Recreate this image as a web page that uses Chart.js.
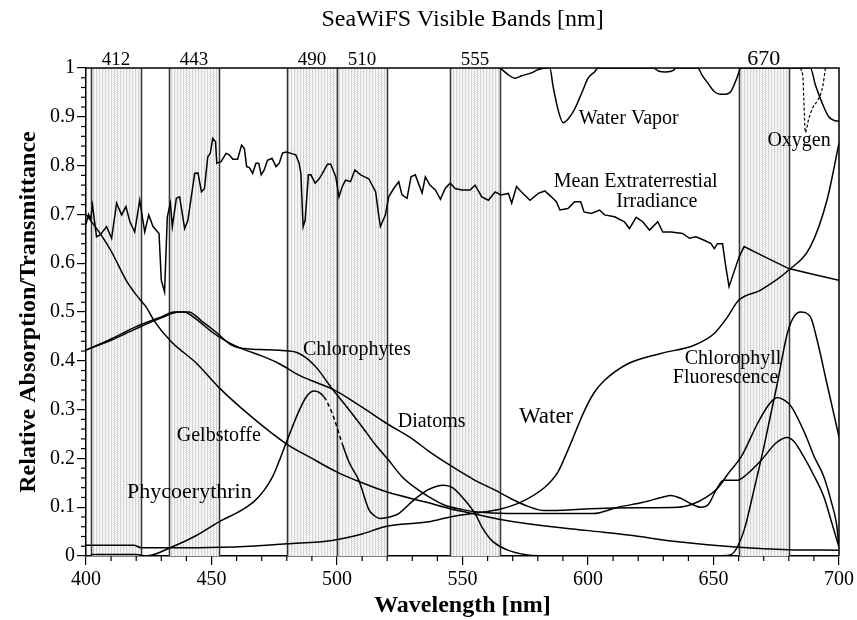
<!DOCTYPE html>
<html>
<head>
<meta charset="utf-8">
<script src="https://cdn.jsdelivr.net/npm/chart.js@4.4.1/dist/chart.umd.min.js"></script>
<style>
  html, body { margin: 0; padding: 0; background: #fff; }
</style>
</head>
<body>
<canvas id="chart" width="857" height="620"></canvas>
<script>
// SeaWiFS bands (nm)
const bandStart = [402, 433, 480, 500, 545, 660];
const bandEnd = [422, 453, 500, 520, 565, 680];
const bandNames = ['412', '443', '490', '510', '555', '670'];

// curves as [wavelength, value]
const irradiance = [
    [400, 0.68], [401, 0.70], [401.8, 0.69], [402.6, 0.719], [404.2, 0.654], [405.6, 0.658], [408.2, 0.675],
    [410.2, 0.651], [412.2, 0.723], [414.2, 0.699], [415.9, 0.716], [417.5, 0.685], [419.4, 0.664],
    [421.4, 0.729], [423.4, 0.664], [425, 0.699], [426.7, 0.675], [429.1, 0.661], [430, 0.565],
    [431.3, 0.541], [432.4, 0.695], [433.6, 0.723], [434.4, 0.675], [436, 0.733], [437.3, 0.736],
    [439.3, 0.671], [440.6, 0.688], [443.3, 0.784], [444.6, 0.785], [446, 0.746], [447.2, 0.753],
    [448.5, 0.818], [449.5, 0.825], [450.5, 0.856], [451.6, 0.849], [452.1, 0.805], [453.8, 0.808],
    [455.8, 0.825], [457.1, 0.822], [458.5, 0.813], [460.4, 0.813], [462, 0.842], [463.1, 0.835],
    [464, 0.798], [465.1, 0.796], [466.4, 0.784], [467.7, 0.805], [468.8, 0.805], [469.8, 0.781],
    [471, 0.791], [472.3, 0.811], [474.1, 0.815], [475.7, 0.798], [477, 0.805], [478.3, 0.826],
    [479.9, 0.828], [482.3, 0.824], [483.6, 0.822], [484.9, 0.805], [485.6, 0.784], [486.5, 0.675],
    [487.3, 0.688], [488.6, 0.781], [489.6, 0.781], [491.3, 0.764], [492.9, 0.773], [494.2, 0.784],
    [496.2, 0.803], [497.5, 0.803], [499.5, 0.777], [500.8, 0.736], [502.1, 0.757], [503.4, 0.77],
    [505.4, 0.767], [507.1, 0.791], [509.4, 0.781], [511.4, 0.776], [512.7, 0.773], [515.4, 0.746],
    [516.7, 0.695], [517.3, 0.675], [519.3, 0.699], [520.6, 0.736], [522.6, 0.753], [524.6, 0.767],
    [525.9, 0.74], [527.9, 0.733], [529.5, 0.777], [531.2, 0.781], [533.9, 0.744], [535.2, 0.777],
    [537, 0.76], [539.2, 0.75], [541.2, 0.731], [543.1, 0.753], [545.1, 0.764], [547.1, 0.753],
    [549.7, 0.75], [553, 0.75], [555, 0.76], [557.7, 0.736], [560.3, 0.729], [563, 0.746],
    [565.3, 0.74], [568.3, 0.743], [569.6, 0.723], [571.5, 0.757], [573.5, 0.746], [576.9, 0.729],
    [580.2, 0.743], [582.8, 0.748], [585.4, 0.736], [587.4, 0.726], [588.8, 0.709], [592, 0.712],
    [594.7, 0.726], [597.1, 0.726], [598.4, 0.705], [601.3, 0.702], [604.6, 0.709], [606.6, 0.699],
    [610.6, 0.695], [614.5, 0.685], [616.5, 0.671], [619.2, 0.694], [621.8, 0.685], [624.5, 0.668],
    [627.8, 0.685], [629.8, 0.664], [633.1, 0.664], [637.7, 0.661], [640.4, 0.651], [643, 0.654],
    [646.3, 0.647], [649, 0.64], [650.3, 0.63], [651.6, 0.64], [653.6, 0.64], [654.9, 0.593],
    [656.2, 0.552], [657.5, 0.572], [660.2, 0.613], [662.2, 0.634], [668.8, 0.617], [680, 0.589],
    [690, 0.577], [700, 0.565]
];
const waterVapor = [
    [565, 1.0], [568.3, 0.986], [570.9, 0.979], [573.5, 0.984], [577.5, 0.99], [580.2, 0.997],
    [584.8, 1.0], [586.1, 0.962], [588.1, 0.914], [590.1, 0.888], [592, 0.895], [594.7, 0.916],
    [598, 0.955], [600, 0.979], [602.6, 0.992], [604, 1.0], [626, 1.0], [628, 0.994], [631, 0.992],
    [634, 0.995], [635, 1.0], [643.7, 1.0], [645.5, 0.985], [647.6, 0.97], [650.3, 0.952],
    [652, 0.947], [654, 0.946], [656.9, 0.952], [659.5, 0.982], [660.9, 1.0], [688.6, 1.0],
    [690.6, 0.965], [693.3, 0.928], [695.9, 0.9], [697.9, 0.893], [700, 0.891]
];
const oxygen = [
    [684.7, 1.0], [685.7, 0.975], [686, 0.934], [686.6, 0.868], [687.9, 0.895], [689.5, 0.918],
    [691.3, 0.932], [692.6, 0.945], [693.6, 0.965], [694.6, 1.0]
];
const gelbstoffe = [
    [400, 0.7], [405.6, 0.661], [410, 0.625], [416, 0.565], [420, 0.535], [424, 0.51], [427, 0.483],
    [434, 0.439], [444, 0.395], [453, 0.345], [466, 0.285], [479.5, 0.231], [490, 0.2], [500, 0.172],
    [510, 0.15], [520, 0.131], [536.5, 0.109], [545, 0.097], [554, 0.087], [564, 0.076], [576, 0.066],
    [600, 0.052], [616, 0.043], [636, 0.029], [660, 0.018], [680, 0.013], [700, 0.012]
];
const chlorophytes = [
    [400, 0.422], [410, 0.442], [420, 0.466], [430, 0.488], [437, 0.5], [441, 0.5], [446, 0.482],
    [452, 0.458], [458, 0.432], [463, 0.425], [470, 0.423], [478, 0.421], [484, 0.417], [488, 0.405],
    [492, 0.385], [498, 0.343], [504, 0.305], [510, 0.265], [515, 0.23], [520.6, 0.196], [526, 0.162],
    [532.5, 0.135], [538, 0.117], [543, 0.104], [550, 0.095], [556, 0.09], [568, 0.087], [585, 0.087],
    [602, 0.087], [612, 0.1], [622, 0.11], [630, 0.121], [633, 0.124], [637, 0.118], [641, 0.107],
    [645, 0.1], [648, 0.106], [651, 0.135], [654, 0.155], [659.5, 0.155], [663, 0.166], [669, 0.196],
    [675, 0.232], [679.4, 0.243], [682, 0.235], [686, 0.203], [690, 0.165], [694, 0.121],
    [697, 0.07], [700, 0.018]
];
const diatoms = [
    [400, 0.422], [410, 0.445], [420, 0.47], [430, 0.49], [435, 0.5], [439, 0.5], [444, 0.485],
    [450, 0.46], [456, 0.44], [462, 0.425], [470, 0.41], [477, 0.394], [485, 0.37], [492, 0.355],
    [499, 0.34], [510, 0.305], [520, 0.271], [530, 0.24], [536.5, 0.215], [545, 0.186], [555, 0.155],
    [563, 0.135], [568, 0.121], [575, 0.104], [582.8, 0.093], [590, 0.094], [601, 0.097], [620, 0.099],
    [636, 0.1], [642, 0.107], [647, 0.12], [652, 0.141], [656, 0.17], [661, 0.203], [667.5, 0.271],
    [672, 0.31], [675.4, 0.325], [678, 0.32], [681, 0.306], [687, 0.244], [690, 0.205], [694, 0.162],
    [697, 0.11], [699, 0.066], [700, 0.02]
];
const phycoerythrin = [
    [402, 0.003], [420, 0.003], [424, 0.0], [434, 0.018], [444, 0.042], [453, 0.07], [462, 0.094],
    [467, 0.112], [471, 0.135], [474.3, 0.162], [477, 0.195], [479.6, 0.23], [485, 0.299], [488, 0.328],
    [490.9, 0.338], [494.8, 0.326], [498.1, 0.292], [502.1, 0.23], [505, 0.19], [508.7, 0.155],
    [512.7, 0.095], [515, 0.082], [517.3, 0.077], [521, 0.08], [524.6, 0.087], [530, 0.112],
    [536, 0.135], [542.5, 0.145], [546, 0.14], [550, 0.12], [555, 0.087], [558, 0.057], [561.6, 0.032],
    [568, 0.012], [576, 0.002], [582, 0]
];
const water = [
    [400, 0.022], [419, 0.022], [422, 0.017], [445, 0.017], [465, 0.02], [480, 0.025], [498, 0.032],
    [510, 0.045], [519, 0.06], [536.5, 0.07], [545, 0.08], [554, 0.087], [565.6, 0.097], [573.5, 0.111],
    [582.8, 0.141], [588, 0.172], [592, 0.217], [598.7, 0.299], [602.5, 0.335], [606.6, 0.36],
    [615.9, 0.394], [629, 0.415], [642.3, 0.432], [650.3, 0.456], [655.6, 0.49], [660, 0.524],
    [668.8, 0.545], [680, 0.586], [688.6, 0.634], [695.2, 0.729], [700, 0.846]
];
const fluorescence = [
    [645, 0], [655, 0.001], [658.2, 0.008], [662.2, 0.053], [666.1, 0.135], [670.1, 0.224],
    [675.4, 0.353], [679.4, 0.456], [682, 0.49], [684.7, 0.5], [688.6, 0.49], [691.3, 0.442],
    [695.2, 0.353], [700, 0.244]
];

// text labels: [text, wavelength, value, font size]
const curveLabels = [
    ['Water Vapor', 616.2, 0.895, 20],
    ['Oxygen', 684.1, 0.85, 20],
    ['Mean Extraterrestial', 619, 0.766, 20],
    ['Irradiance', 627.4, 0.725, 20],
    ['Chlorophytes', 507.9, 0.422, 20],
    ['Diatoms', 537.7, 0.276, 20],
    ['Water', 583.3, 0.285, 23],
    ['Gelbstoffe', 452.9, 0.247, 20],
    ['Phycoerythrin', 441.2, 0.131, 22],
    ['Chlorophyll', 657.8, 0.405, 20],
    ['Fluorescence', 654.8, 0.366, 20]
];

const SERIF = '"Liberation Serif", "DejaVu Serif", serif';

function toPoints(arr) {
    return arr.map(p => ({ x: p[0], y: p[1] }));
}

// light stippled fill like the original band shading
function makeBandPattern() {
    const pc = document.createElement('canvas');
    pc.width = 3;
    pc.height = 2;
    const p = pc.getContext('2d');
    p.fillStyle = '#ffffff';
    p.fillRect(0, 0, 3, 2);
    p.fillStyle = '#d4d4d4';
    p.fillRect(0, 0, 1, 2);
    p.fillStyle = '#e4e4e4';
    p.fillRect(1, 1, 1, 1);
    p.fillStyle = '#f0f0f0';
    p.fillRect(2, 0, 1, 1);
    return document.getElementById('chart').getContext('2d').createPattern(pc, 'repeat');
}
const bandPattern = makeBandPattern();

const seawifsPlugin = {
    id: 'seawifs',
    beforeDatasetsDraw(chart) {
        const { ctx, chartArea: a, scales: { x } } = chart;
        ctx.save();
        bandStart.forEach((s, i) => {
            const x0 = x.getPixelForValue(s);
            const x1 = x.getPixelForValue(bandEnd[i]);
            ctx.fillStyle = bandPattern;
            ctx.fillRect(x0, a.top, x1 - x0, a.bottom - a.top);
        });
        ctx.strokeStyle = '#333';
        ctx.lineWidth = 1.5;
        const edges = new Set(bandStart.concat(bandEnd));
        edges.forEach(v => {
            const px = Math.round(x.getPixelForValue(v)) + 0.5;
            ctx.beginPath();
            ctx.moveTo(px, a.top);
            ctx.lineTo(px, a.bottom);
            ctx.stroke();
        });
        ctx.restore();
    },
    afterDraw(chart) {
        const { ctx, chartArea: a, scales: { x, y } } = chart;
        ctx.save();
        // frame top and right
        ctx.strokeStyle = '#000';
        ctx.lineWidth = 1.5;
        ctx.beginPath();
        ctx.moveTo(a.left, a.top);
        ctx.lineTo(a.right, a.top);
        ctx.lineTo(a.right, a.bottom);
        ctx.stroke();

        // minor ticks
        ctx.lineWidth = 1.2;
        for (let v = 410; v < 700; v += 10) {
            if (v % 50 === 0) continue;
            const px = x.getPixelForValue(v);
            ctx.beginPath();
            ctx.moveTo(px, a.bottom);
            ctx.lineTo(px, a.bottom + 5);
            ctx.stroke();
        }
        for (let k = 1; k < 50; k++) {
            if (k % 5 === 0) continue;
            const py = y.getPixelForValue(k * 0.02);
            ctx.beginPath();
            ctx.moveTo(a.left - 5, py);
            ctx.lineTo(a.left, py);
            ctx.stroke();
        }

        // title and band names
        ctx.fillStyle = '#000';
        ctx.textAlign = 'center';
        ctx.textBaseline = 'alphabetic';
        ctx.font = '24px ' + SERIF;
        ctx.fillText('SeaWiFS Visible Bands [nm]', (a.left + a.right) / 2, 26);
        bandNames.forEach((name, i) => {
            const cx = x.getPixelForValue((bandStart[i] + bandEnd[i]) / 2);
            ctx.font = (name === '670' ? '22px ' : '19px ') + SERIF;
            ctx.fillText(name, cx, a.top - 3);
        });

        // curve labels
        ctx.textBaseline = 'middle';
        curveLabels.forEach(([text, wl, val, size]) => {
            ctx.font = size + 'px ' + SERIF;
            ctx.fillText(text, x.getPixelForValue(wl), y.getPixelForValue(val));
        });
        ctx.restore();
    }
};

function lineSet(label, arr, extra) {
    return Object.assign({
        label: label,
        data: toPoints(arr),
        borderColor: '#000',
        borderWidth: 1.5,
        pointRadius: 0,
        fill: false,
        cubicInterpolationMode: 'monotone'
    }, extra || {});
}

new Chart(document.getElementById('chart'), {
    type: 'line',
    data: {
        datasets: [
            lineSet('Mean Extraterrestial Irradiance', irradiance, { cubicInterpolationMode: 'default', tension: 0 }),
            lineSet('Water Vapor', waterVapor),
            lineSet('Oxygen', oxygen, { borderDash: [3, 2], borderWidth: 1.2 }),
            lineSet('Gelbstoffe', gelbstoffe),
            lineSet('Chlorophytes', chlorophytes),
            lineSet('Diatoms', diatoms),
            lineSet('Phycoerythrin', phycoerythrin, {
                segment: {
                    borderDash: c => (c.p0.parsed.x >= 492 && c.p1.parsed.x <= 503) ? [4, 3] : undefined
                }
            }),
            lineSet('Water', water),
            lineSet('Chlorophyll Fluorescence', fluorescence)
        ]
    },
    options: {
        responsive: false,
        animation: false,
        layout: { padding: { top: 68, right: 15, left: 0, bottom: 0 } },
        plugins: {
            legend: { display: false },
            tooltip: { enabled: false }
        },
        scales: {
            x: {
                type: 'linear',
                min: 400,
                max: 700,
                ticks: { stepSize: 50, color: '#000', font: { family: SERIF, size: 20 }, padding: 3, maxRotation: 0 },
                grid: { drawOnChartArea: false, color: '#000', tickLength: 9, lineWidth: 1.2 },
                border: { color: '#000', width: 1.5 },
                title: { display: true, text: 'Wavelength [nm]', color: '#000', font: { family: SERIF, size: 24, weight: 'bold' }, padding: 0 },
                afterFit(s) { s.height = 64; }
            },
            y: {
                type: 'linear',
                min: 0,
                max: 1,
                ticks: {
                    stepSize: 0.1,
                    color: '#000',
                    font: { family: SERIF, size: 20 },
                    padding: 2,
                    callback: v => String(Math.round(v * 10) / 10)
                },
                grid: { drawOnChartArea: false, color: '#000', tickLength: 9, lineWidth: 1.2 },
                border: { color: '#000', width: 1.5 },
                title: { display: true, text: 'Relative Absorption/Transmittance', color: '#000', font: { family: SERIF, size: 24, weight: 'bold' }, padding: { top: 14, bottom: 0 } },
                afterFit(s) { s.width = 86; }
            }
        }
    },
    plugins: [seawifsPlugin]
});
</script>
</body>
</html>
